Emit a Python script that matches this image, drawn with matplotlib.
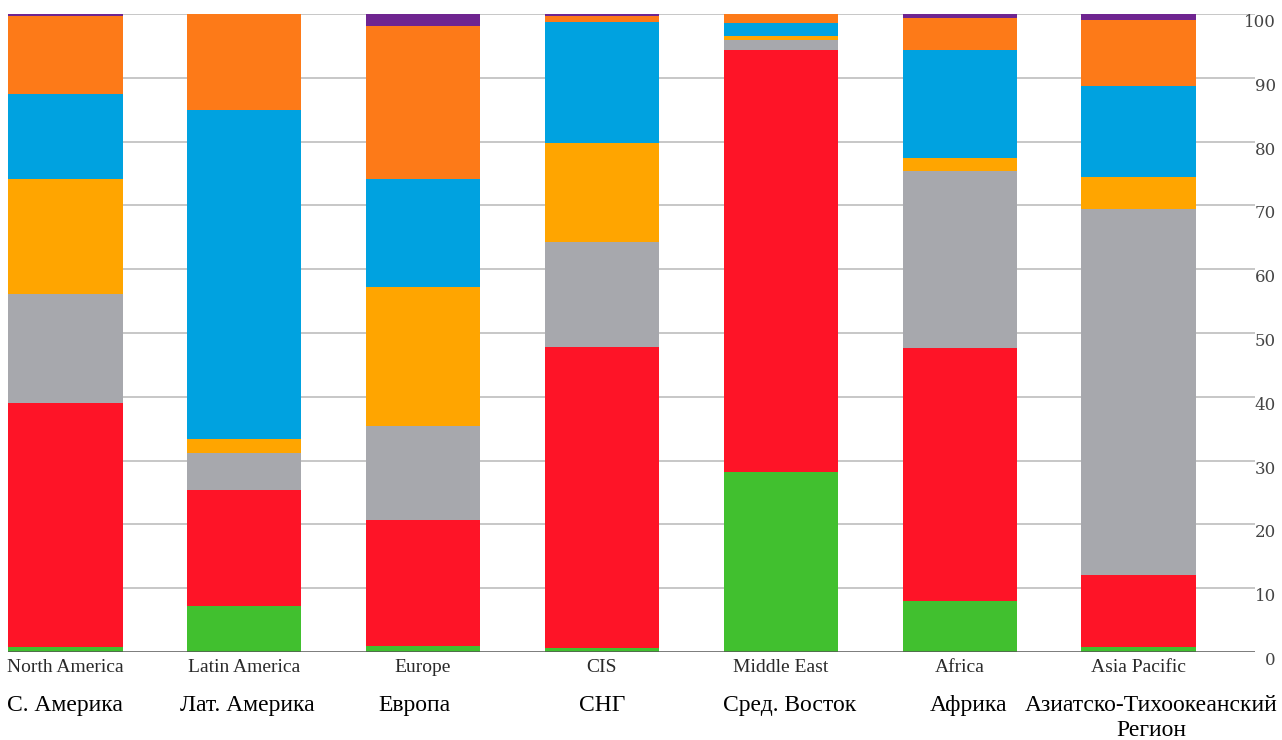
import matplotlib
matplotlib.use("Agg")
import matplotlib.pyplot as plt
import numpy as np

# Regiones (etiquetas en inglés y ruso)
regiones_en = ["North America", "Latin America", "Europe", "CIS",
               "Middle East", "Africa", "Asia Pacific"]
regiones_ru = ["С. Америка", "Лат. Америка", "Европа", "СНГ",
               "Сред. Восток", "Африка", "Азиатско-Тихоокеанский\nРегион"]

# Segmentos apilados de abajo hacia arriba (%)
verde = [0.8, 7.2, 1.0, 0.6, 28.2, 8.0, 0.8]
rojo = [38.2, 18.2, 19.7, 47.2, 66.2, 39.6, 11.3]
gris = [17.1, 5.8, 14.7, 16.5, 1.6, 27.8, 57.3]
amarillo = [18.0, 2.2, 21.8, 15.5, 0.6, 2.0, 5.1]
azul = [13.4, 51.6, 16.9, 19.0, 2.0, 17.0, 14.2]
naranja = [12.2, 15.0, 24.0, 0.9, 1.4, 5.0, 10.4]
morado = [0.3, 0.0, 1.9, 0.3, 0.0, 0.6, 0.9]

series = [verde, rojo, gris, amarillo, azul, naranja, morado]
colores = ["#41c02f", "#fe1427", "#a7a8ad", "#ffa500", "#00a2e0", "#fd7a18", "#6f2590"]

# Pequeños ajustes horizontales de las etiquetas rusas (en unidades de barra)
desplaz_ru = [0.0, 0.02, -0.05, 0.0, 0.05, 0.05, 0.07]

fig = plt.figure(figsize=(12.82, 7.4), dpi=100)
ax = fig.add_axes([8 / 1282, 1 - 652 / 740, (1255 - 8) / 1282, (652 - 14) / 740])

x = np.arange(len(regiones_en))
base = np.zeros(len(x))
for valores, color in zip(series, colores):
    ax.bar(x, valores, bottom=base, width=0.64, color=color, zorder=2)
    base += np.array(valores)

ax.set_xlim(-0.32, 6.65)
ax.set_ylim(0, 100)

# Rejilla horizontal
for v in range(10, 101, 10):
    ax.axhline(v, color="#b8b8b8", lw=1.1, zorder=1)
ax.axhline(0, color="#555555", lw=1.8, zorder=3)

for lado in ["top", "right", "left", "bottom"]:
    ax.spines[lado].set_visible(False)

# Eje Y a la derecha
ax.yaxis.tick_right()
ax.set_yticks(range(0, 101, 10))
ax.tick_params(axis="y", length=0, pad=15, labelsize=12, labelcolor="#444444")
for etiqueta in ax.get_yticklabels():
    etiqueta.set_horizontalalignment("right")
    etiqueta.set_verticalalignment("top")
    etiqueta.set_fontfamily("DejaVu Serif")

# Etiquetas en inglés
ax.set_xticks(x)
ax.set_xticklabels(regiones_en, fontfamily="Liberation Serif", fontsize=14, color="#2a2a2a")
ax.tick_params(axis="x", length=0, pad=5)

# Etiquetas en ruso
for i, texto in enumerate(regiones_ru):
    ax.text(x[i] + desplaz_ru[i], -6.8, texto, ha="center", va="top",
            fontfamily="Liberation Serif", fontsize=17, color="black",
            linespacing=1.22, transform=ax.transData, clip_on=False)

fig.savefig("out.png", dpi=100)
